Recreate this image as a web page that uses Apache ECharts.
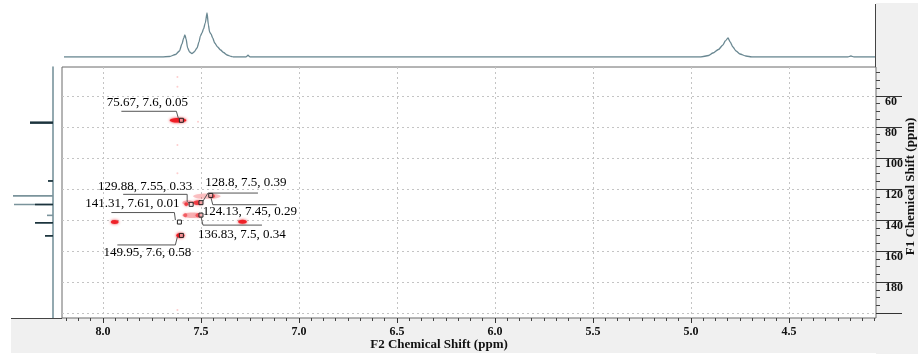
<!DOCTYPE html>
<html><head><meta charset="utf-8">
<script src="https://cdn.jsdelivr.net/npm/echarts@6/dist/echarts.min.js"></script>
<style>html,body{margin:0;padding:0;background:#fff}#c{width:918px;height:354px}</style>
</head><body><div id="c"></div>
<script>
// ---- axis ticks ----
const f2Ticks = [8.0, 7.5, 7.0, 6.5, 6.0, 5.5, 5.0, 4.5];
const f1Ticks = [60, 80, 100, 120, 140, 160, 180, 200];
const f1Labels = [60, 80, 100, 120, 140, 160, 180];

// ---- 1H projection trace (ppm, intensity) ----
const protonPpm = [8.199, 7.70, 7.66, 7.63, 7.61, 7.597, 7.588, 7.582, 7.576, 7.568, 7.558, 7.546, 7.535, 7.52, 7.51, 7.503, 7.495, 7.487, 7.478, 7.469, 7.462, 7.456, 7.449, 7.44, 7.43, 7.415, 7.40, 7.385, 7.367, 7.345, 7.335, 7.27, 7.26, 7.25, 4.95, 4.91, 4.888, 4.86, 4.837, 4.825, 4.811, 4.80, 4.786, 4.77, 4.75, 4.72, 4.69, 4.20, 4.184, 4.168, 4.061];
const protonInt = [0, 0, 0.5, 2.5, 6, 13, 19, 22, 18, 9, 5, 3.5, 5, 9, 15, 21, 24, 28, 34, 44, 32, 25, 23, 19, 14, 10, 7, 4.5, 2, 0.5, 0, 0, 1.8, 0, 0, 1.5, 4, 7.5, 12, 16, 19, 15, 10, 6, 3, 1, 0, 0, 1, 0, 0];

// ---- 13C projection sticks (ppm, intensity) ----
const carbonPpm = [77.2, 114.8, 124.4, 130.0, 137.0, 141.8, 150.2];
const carbonInt = [23, 5, 40, 39, 6, 18, 8];
const carbonCore = [23, 5, 0, 18, 0, 18, 8];

// ---- HSQC cross peaks: F2 ppm, F1 ppm, F2 width, F1 width, level ----
const cpF2 = [7.617, 7.605, 7.94, 7.288, 7.47, 7.443, 7.515, 7.565, 7.575, 7.545, 7.51, 7.58];
const cpF1 = [75.67, 149.95, 141.3, 141.1, 124.6, 124.6, 128.8, 128.8, 129.8, 136.9, 136.9, 136.9];
const cpW2 = [0.085, 0.042, 0.04, 0.045, 0.14, 0.03, 0.05, 0.06, 0.02, 0.10, 0.035, 0.02];
const cpW1 = [3.0, 3.0, 2.6, 2.6, 3.5, 2.5, 3.0, 3.0, 2.5, 3.5, 3.0, 2.5];
const cpLevel = [1, 1, 0.95, 0.95, 0.25, 0.6, 0.75, 0.3, 0.7, 0.3, 0.55, 0.5];

// faint t1 noise spots
const noiseF2 = [7.62, 7.62, 7.62, 7.62, 7.62, 7.515];
const noiseF1 = [47.7, 54, 91.6, 109.9, 198, 76.6];

// ---- annotated peaks ----
const annF1 = [75.67, 129.88, 141.31, 149.95, 128.8, 124.13, 136.83];
const annF2 = [7.6, 7.55, 7.61, 7.6, 7.5, 7.45, 7.5];
const annInt = [0.05, 0.33, 0.01, 0.58, 0.39, 0.29, 0.34];

// label layout (pixel offsets from marker)
const annLayout = [
  {tx: -34, ty: -18, line: [[-60, -9], [-5, -9], [-3, -2]]},
  {tx: -46, ty: -18, line: [[-68, -10], [-4, -10], [-4, -3], [-2, -1]]},
  {tx: -47, ty: -18.7, line: [[-68, -9.5], [-5, -9.5], [-4, -2]]},
  {tx: -34, ty: 17, line: [[-64, 9.5], [-6, 9.5], [-4, 1.5]]},
  {tx: 45, ty: -20.4, line: [[57, -9.6], [7, -9.6], [2, -1.5]]},
  {tx: 39, ty: 16.3, line: [[66, 9.3], [2, 9.3], [0, 1.5]]},
  {tx: 41, ty: 19, line: [[61, 10], [2, 10], [0, 1.5]]}
];

const X_MIN = 4.056, X_MAX = 8.209, Y_MIN = 41.3, Y_MAX = 203.2;
const FONT = '"Liberation Serif", "Times New Roman", serif';

const xMinor = [];
for (let v = 4.0625; v < 8.2; v += 0.0625) { if (Math.abs(v * 2 - Math.round(v * 2)) > 1e-6) xMinor.push(+v.toFixed(4)); }
const yMinor = [];
for (let v = 45; v <= 200; v += 5) { if (v % 20 !== 0) yMinor.push(v); }

const chart = echarts.init(document.getElementById('c'), null, {renderer: 'canvas'});
chart.setOption({
  animation: false,
  backgroundColor: '#fff',
  graphic: [
    {type: 'rect', z: -10, shape: {x: 876, y: 3, width: 42, height: 351}, style: {fill: '#f0f0f0'}},
    {type: 'rect', z: -10, shape: {x: 11, y: 318, width: 907, height: 35}, style: {fill: '#f0f0f0'}},
    {type: 'line', z: 5, shape: {x1: 875.5, y1: 4, x2: 875.5, y2: 67}, style: {stroke: '#444', lineWidth: 1}},
    {type: 'line', z: 5, shape: {x1: 11, y1: 318.5, x2: 62, y2: 318.5}, style: {stroke: '#444', lineWidth: 1}}
  ],
  grid: [
    {left: 11, width: 42, top: 67, height: 251, containLabel: false, outerBoundsMode: 'none'},
    {left: 62, width: 814, top: 10, height: 47, containLabel: false, outerBoundsMode: 'none'},
    {left: 62, width: 814, top: 67, height: 251, containLabel: false, outerBoundsMode: 'none',
      show: true, borderColor: '#6a6a6a', borderWidth: 1, backgroundColor: '#fff'}
  ],
  xAxis: [
    {gridIndex: 0, type: 'value', min: 0, max: 42, inverse: true, show: false},
    {gridIndex: 1, type: 'value', min: X_MIN, max: X_MAX, inverse: true, show: false},
    {gridIndex: 2, type: 'value', min: X_MIN, max: X_MAX, inverse: true, position: 'bottom',
      axisLine: {show: false},
      axisTick: {show: true, customValues: f2Ticks, length: 5, lineStyle: {color: '#333'}},
      axisLabel: {show: true, customValues: f2Ticks, margin: 8, formatter: v => v.toFixed(1),
        fontFamily: FONT, fontSize: 12, fontWeight: 'bold', color: '#111'},
      splitLine: {show: true, lineStyle: {type: [2, 3], color: '#c4c4c4'}},
      name: 'F2 Chemical Shift (ppm)', nameLocation: 'middle', nameGap: 20, nameMoveOverlap: false,
      nameTextStyle: {fontFamily: FONT, fontSize: 13, fontWeight: 'bold', color: '#111', padding: [0, 60, 0, 0]}},
    {gridIndex: 2, type: 'value', min: X_MIN, max: X_MAX, inverse: true, position: 'bottom',
      axisLine: {show: false}, axisLabel: {show: false}, splitLine: {show: false},
      axisTick: {show: true, customValues: xMinor, length: 3, lineStyle: {color: '#444'}}}
  ],
  yAxis: [
    {gridIndex: 0, type: 'value', min: Y_MIN, max: Y_MAX, inverse: true, position: 'right',
      axisLine: {show: true, lineStyle: {color: '#6f8c96', width: 1.5}},
      axisTick: {show: false}, axisLabel: {show: false}, splitLine: {show: false}},
    {gridIndex: 1, type: 'value', min: 0, max: 47, show: false},
    {gridIndex: 2, type: 'value', min: Y_MIN, max: Y_MAX, inverse: true, position: 'right',
      axisLine: {show: false},
      axisTick: {show: true, customValues: f1Ticks, length: 26, lineStyle: {color: '#333'}},
      axisLabel: {show: true, customValues: f1Labels, margin: 9, verticalAlign: 'top', padding: [0, 0, 0, 0],
        fontFamily: FONT, fontSize: 12, fontWeight: 'bold', color: '#111'},
      splitLine: {show: true, lineStyle: {type: [2, 3], color: '#c4c4c4'}},
      name: 'F1 Chemical Shift (ppm)', nameLocation: 'middle', nameGap: 28, nameRotate: 90, nameMoveOverlap: false,
      nameTextStyle: {fontFamily: FONT, fontSize: 13, fontWeight: 'bold', color: '#111', padding: [0, 0, 0, 12]}},
    {gridIndex: 2, type: 'value', min: Y_MIN, max: Y_MAX, inverse: true, position: 'right',
      axisLine: {show: false}, axisLabel: {show: false}, splitLine: {show: false},
      axisTick: {show: true, customValues: yMinor, length: 4, lineStyle: {color: '#444'}}}
  ],
  series: [
    {type: 'custom', xAxisIndex: 0, yAxisIndex: 0, clip: false,
      data: carbonPpm.map((p, i) => [carbonInt[i], p]),
      renderItem: (params, api) => {
        const a = api.coord([0, api.value(1)]), b = api.coord([api.value(0), api.value(1)]);
        return {type: 'line', shape: {x1: a[0], y1: a[1], x2: b[0], y2: b[1]}, style: {stroke: '#7a939b', lineWidth: 1.6}};
      }},
    {type: 'custom', xAxisIndex: 0, yAxisIndex: 0, clip: false,
      data: carbonPpm.map((p, i) => [carbonCore[i], p]),
      renderItem: (params, api) => {
        if (!api.value(0)) return null;
        const a = api.coord([0, api.value(1)]), b = api.coord([api.value(0), api.value(1)]);
        return {type: 'line', shape: {x1: a[0], y1: a[1], x2: b[0], y2: b[1]}, style: {stroke: '#1c333c', lineWidth: params.dataIndex === 0 ? 2.4 : 1.6}};
      }},
    {type: 'line', xAxisIndex: 1, yAxisIndex: 1, showSymbol: false, smooth: 0.25, smoothMonotone: 'x',
      data: protonPpm.map((p, i) => [p, protonInt[i]]),
      lineStyle: {color: '#6a8892', width: 1.3}},
    {type: 'custom', xAxisIndex: 2, yAxisIndex: 2, clip: true,
      data: cpF2.map((x, i) => [x, cpF1[i], cpW2[i], cpW1[i], cpLevel[i]]),
      renderItem: (params, api) => {
        const c = api.coord([api.value(0), api.value(1)]);
        const s = api.size([api.value(2), api.value(3)]);
        const lv = api.value(4);
        const col = 'rgba(238,28,36,' + lv + ')';
        return {type: 'ellipse', shape: {cx: c[0], cy: c[1], rx: s[0] / 2, ry: s[1] / 2},
          style: {fill: col, shadowBlur: 3, shadowColor: col}};
      }},
    {type: 'scatter', xAxisIndex: 2, yAxisIndex: 2, symbolSize: 2,
      data: noiseF2.map((x, i) => [x, noiseF1[i]]),
      itemStyle: {color: 'rgba(250,120,120,0.45)'}},
    {type: 'custom', xAxisIndex: 2, yAxisIndex: 2, clip: false, z: 10,
      data: annF2.map((x, i) => [x, annF1[i], annInt[i]]),
      renderItem: (params, api) => {
        const i = params.dataIndex;
        const c = api.coord([api.value(0), api.value(1)]);
        const L = annLayout[i];
        return {type: 'group', children: [
          {type: 'polyline', shape: {points: L.line.map(p => [c[0] + p[0], c[1] + p[1]])},
            style: {stroke: '#555', lineWidth: 1, fill: null}},
          {type: 'rect', shape: {x: c[0] - 2, y: c[1] - 2, width: 4, height: 4},
            style: {stroke: '#222', fill: 'rgba(255,255,255,0.5)', lineWidth: 1}},
          {type: 'text', style: {text: annF1[i] + ', ' + annF2[i] + ', ' + annInt[i],
            x: c[0] + L.tx, y: c[1] + L.ty, align: 'center', verticalAlign: 'middle',
            fontFamily: FONT, fontSize: 13, fill: '#000'}}
        ]};
      }}
  ]
});
</script></body></html>
